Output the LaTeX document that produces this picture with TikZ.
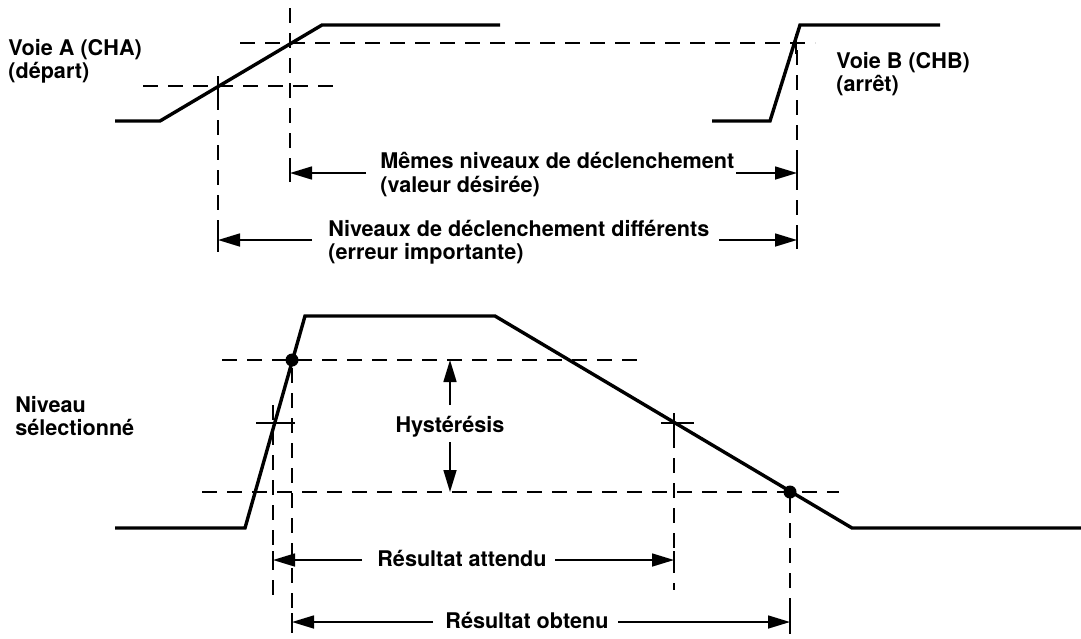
\documentclass[tikz,border=0pt]{standalone}
\usepackage{fontspec}
\setmainfont{TeX Gyre Heros}
\usetikzlibrary{arrows.meta}
\begin{document}
\begin{tikzpicture}[x=0.5pt,y=-0.5pt,
  wave/.style={line width=1.7pt},
  guide/.style={line width=0.85pt, dash pattern=on 7.5pt off 5pt},
  thin/.style={line width=0.85pt},
  dim/.style={line width=0.8pt, -{Triangle[length=11pt,width=6.5pt]}},
  lbl/.style={font=\bfseries\fontsize{10.8}{12}\selectfont, inner sep=0pt, anchor=base west},
  lblc/.style={font=\bfseries\fontsize{10.8}{12}\selectfont, inner sep=0pt, anchor=base},
  dot/.style={fill=black}]
\useasboundingbox (0,0) rectangle (1081,638);

% ---- channel A (start) ----
\coordinate (a0) at (115,121); \coordinate (a1) at (160,121);
\coordinate (a2) at (322,25);  \coordinate (a3) at (500,25);
\draw[wave] (a0) -- (a1) -- (a2) -- (a3);

% ---- channel B (stop) ----
\coordinate (b0) at (712,121); \coordinate (b1) at (770,121);
\coordinate (b2) at (800,25);  \coordinate (b3) at (940,25);
\draw[wave] (b0) -- (b1) -- (b2) -- (b3);

% trigger levels
\draw[guide] (143,86) -- (340,86);
\draw[guide] (240,43) -- (815,43);
\draw[guide] (290,8) -- (290,182);
\draw[guide] (218,95) -- (218,252);
\draw[guide] (797,50) -- (797,250);
\draw[thin] (218,76) -- (218,96);
\draw[thin] (796,34) -- (796,54);

% intervals
\coordinate (m1) at (290,173); \coordinate (m2) at (797,173);
\coordinate (n1) at (218,240); \coordinate (n2) at (797,240);
\draw[dim] (366,173) -- (m1);
\draw[dim] (736,173) -- (m2);
\draw[dim] (312,240) -- (n1);
\draw[dim] (719,240) -- (n2);
\foreach \p in {m1,m2,n1,n2} \draw[thin] ([yshift=-4.5pt]\p) -- ([yshift=4.5pt]\p);

\node[lbl] (la1) at (8,55) {Voie A (CHA)};
\node[lbl] (la2) at (8,78) {(départ)};
\node[lbl] (lb1) at (836,68) {Voie B (CHB)};
\node[lbl] (lb2) at (836,91) {(arrêt)};
\node[lbl] (lm1) at (380,168) {Mêmes niveaux de déclenchement};
\node[lbl] (lm2) at (380,192) {(valeur désirée)};
\node[lbl] (ln1) at (328,236) {Niveaux de déclenchement différents};
\node[lbl] (ln2) at (328,259) {(erreur importante)};

% ---- hysteresis waveform ----
\coordinate (c0) at (115,528); \coordinate (c1) at (245,528);
\coordinate (c2) at (305,316); \coordinate (c3) at (495,316);
\coordinate (c4) at (852,528); \coordinate (c5) at (1081,528);
\draw[wave] (c0) -- (c1) -- (c2) -- (c3) -- (c4) -- (c5);

\draw[guide] (222,360) -- (642,360);
\draw[guide] (202,492) -- (839,492);
\draw[thin] (256,423) -- (295,423);
\draw[thin] (661,423) -- (694,423);
\draw[thin] (674,413) -- (674,433);
\draw[guide] (273,405) -- (273,596);
\draw[guide] (292,368) -- (292,633);
\draw[guide] (674,433) -- (674,590);
\draw[guide] (790,498) -- (790,634);
\fill[dot] (292,360) circle[radius=6.5];
\fill[dot] (790,492) circle[radius=6.5];

% hysteresis band
\coordinate (h1) at (450,360); \coordinate (h2) at (450,492);
\node[lblc] (lh) at (450,432) {Hystérésis};
\draw[dim] (450,405) -- (h1);
\draw[dim] (450,442) -- (h2);

% expected / obtained results
\coordinate (r1) at (273,560); \coordinate (r2) at (674,560);
\coordinate (o1) at (292,622); \coordinate (o2) at (790,622);
\draw[dim] (362,560) -- (r1);
\draw[dim] (555,560) -- (r2);
\draw[dim] (433,622) -- (o1);
\draw[dim] (618,622) -- (o2);
\foreach \p in {r1,r2,o1,o2} \draw[thin] ([yshift=-4.5pt]\p) -- ([yshift=4.5pt]\p);

\node[lbl] (ls1) at (15,412) {Niveau};
\node[lbl] (ls2) at (15,435) {sélectionné};
\node[lbl] (lr) at (377,566) {Résultat attendu};
\node[lbl] (lo) at (445,628) {Résultat obtenu};
\end{tikzpicture}
\end{document}
